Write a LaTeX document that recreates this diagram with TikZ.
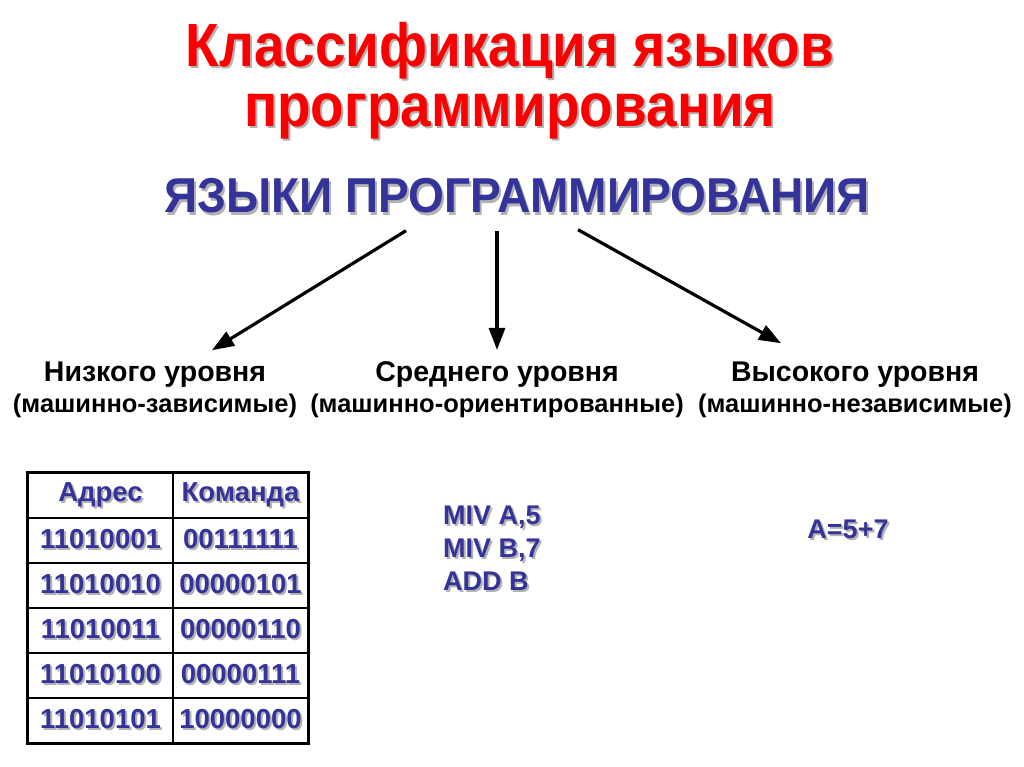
\documentclass[tikz,border=0pt]{standalone}
\usepackage{fontspec}
\setmainfont{Liberation Sans}
\newfontfamily\titlefont{Liberation Sans}[FakeStretch=0.90]
\newfontfamily\subfont{Liberation Sans}[FakeStretch=0.94]
\usepackage{xcolor}
\usetikzlibrary{arrows.meta, positioning, calc}
\definecolor{titlered}{RGB}{250,0,0}
\definecolor{navy}{RGB}{51,51,153}
\newcommand\shd[1]{\makebox[0pt][l]{\hspace{2pt}\raisebox{-2pt}{\textcolor{black!30}{#1}}}#1}
\newcommand\lvlsmall{\fontsize{25.5}{31}\selectfont}

\begin{document}
\begin{tikzpicture}[x=1pt, y=-1pt,
    every node/.style={inner sep=0pt},
    ttl/.style={font=\titlefont\bfseries\fontsize{61}{60}\selectfont, text=titlered, align=center},
    sub/.style={font=\subfont\bfseries\fontsize{49}{49}\selectfont, text=navy},
    lvl/.style={font=\bfseries\fontsize{28.5}{31}\selectfont, align=center},
    cell/.style={draw, line width=1.2pt, font=\bfseries\fontsize{27.5}{27.5}\selectfont, text=navy, minimum height=45pt},
    code/.style={font=\bfseries\fontsize{27}{33}\selectfont, text=navy, align=left},
    a/.style={-{Triangle[length=22pt, width=16pt]}, line width=3.2pt}
]
\useasboundingbox[fill=white] (0,0) rectangle (1024,767);
\node[ttl, anchor=base] (title) at (510,127) {\shd{Классификация языков}\\\shd{программирования}};
\node[sub, anchor=base] (langs) at (517,213) {\shd{ЯЗЫКИ ПРОГРАММИРОВАНИЯ}};
\node[lvl, anchor=base] (low)  at (155,412) {Низкого уровня\\{\lvlsmall(машинно-зависимые)}};
\node[lvl, anchor=base] (mid)  at (497,412) {Среднего уровня\\{\lvlsmall(машинно-ориентированные)}};
\node[lvl, anchor=base] (high) at (855,412) {Высокого уровня\\{\lvlsmall(машинно-независимые)}};
\draw[a] ($(langs.south)+(-111,15)$) -- ($(low.north)+(57,-11)$);
\draw[a] ($(langs.south)+(-20,15)$)  -- ($(mid.north)+(0,-11)$);
\draw[a] ($(langs.south)+(61,14)$)   -- ($(high.north)+(-74,-18)$);
% table of machine codes
\foreach \adr/\cmd [count=\i] in {Адрес/Команда, 11010001/00111111, 11010010/00000101,
    11010011/00000110, 11010100/00000111, 11010101/10000000} {
  \node[cell, minimum width=145pt] (adr\i) at (100.5,{495.5+45*(\i-1)}) {\shd{\adr}};
  \node[cell, minimum width=135pt] (cmd\i) at (240.5,{495.5+45*(\i-1)}) {\shd{\cmd}};
}
\draw[line width=2.2pt] (adr1.north west) rectangle (cmd6.south east);
\node[code, anchor=base west] (asm) at (443,590) {\shd{MIV A,5}\\\shd{MIV B,7}\\\shd{ADD B}};
\node[code, anchor=base] (expr) at (848,538) {\shd{A=5+7}};
\end{tikzpicture}
\end{document}
